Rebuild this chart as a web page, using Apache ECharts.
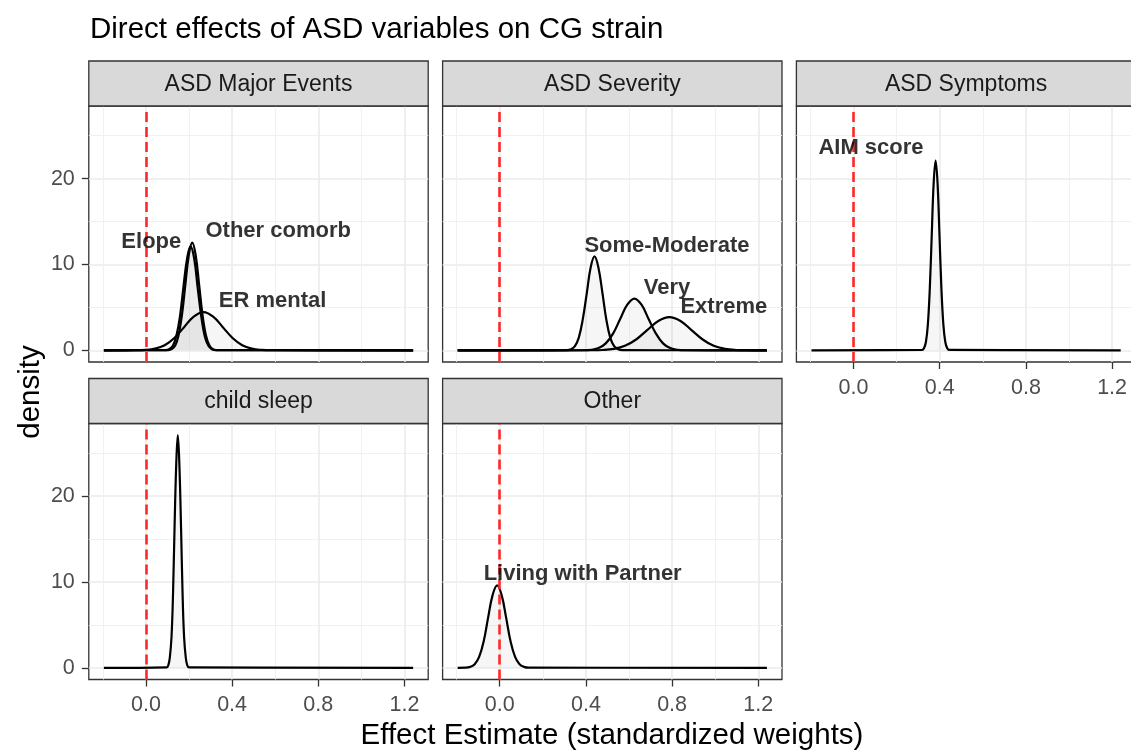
<!DOCTYPE html>
<html><head><meta charset="utf-8">
<script src="https://cdn.jsdelivr.net/npm/echarts@6/dist/echarts.min.js"></script>
<style>html,body{margin:0;padding:0;background:#fff}#c{width:1131px;height:751px}</style>
</head><body><div id="c"></div>
<script>
// ---- data ----
const facets = ['ASD Major Events', 'ASD Severity', 'ASD Symptoms', 'child sleep', 'Other'];
const xTicks = [0, 0.4, 0.8, 1.2];
const xMinorTicks = [-0.2, 0.2, 0.6, 1.0];
const yTicks = [0, 10, 20];
const yMinorTicks = [5, 15, 25];

const elope = [[-0.195,0],[0.092,0.03],[0.108,0.13],[0.125,0.53],[0.141,1.64],[0.158,3.93],[0.174,7.34],[0.191,10.68],[0.207,12.1],[0.224,10.68],[0.240,7.34],[0.257,3.93],[0.273,1.64],[0.290,0.53],[0.306,0.13],[0.323,0.03],[1.24,0]];
const otherComorb = [[-0.195,0],[0.104,0.03],[0.120,0.14],[0.136,0.55],[0.151,1.70],[0.167,4.07],[0.183,7.61],[0.199,11.08],[0.215,12.55],[0.231,11.08],[0.247,7.61],[0.263,4.07],[0.279,1.70],[0.295,0.55],[0.310,0.14],[0.326,0.03],[1.24,0]];
const erMental = [[-0.195,0],[-0.048,0.01],[-0.003,0.05],[0.042,0.20],[0.087,0.60],[0.132,1.44],[0.177,2.70],[0.222,3.93],[0.267,4.45],[0.312,3.93],[0.357,2.70],[0.402,1.44],[0.447,0.60],[0.492,0.20],[0.537,0.05],[0.582,0.01],[1.24,0]];
const someModerate = [[-0.195,0],[0.312,0.02],[0.331,0.12],[0.349,0.48],[0.367,1.48],[0.385,3.55],[0.404,6.64],[0.422,9.65],[0.440,10.94],[0.458,9.65],[0.477,6.64],[0.495,3.55],[0.513,1.48],[0.531,0.48],[0.550,0.12],[0.568,0.02],[1.24,0]];
const very = [[-0.195,0],[0.393,0.01],[0.426,0.07],[0.459,0.26],[0.492,0.81],[0.526,1.95],[0.559,3.65],[0.592,5.31],[0.625,6.02],[0.658,5.31],[0.691,3.65],[0.725,1.95],[0.758,0.81],[0.791,0.26],[0.824,0.07],[0.857,0.01],[1.24,0]];
const extreme = [[-0.195,0],[0.427,0.01],[0.478,0.04],[0.530,0.17],[0.581,0.52],[0.633,1.26],[0.684,2.35],[0.736,3.42],[0.787,3.87],[0.839,3.42],[0.890,2.35],[0.942,1.26],[0.993,0.52],[1.045,0.17],[1.096,0.04],[1.148,0.01],[1.24,0]];
const aimScore = [[-0.195,0],[0.318,0.05],[0.327,0.25],[0.336,0.97],[0.345,2.99],[0.354,7.18],[0.363,13.40],[0.372,19.50],[0.381,22.1],[0.390,19.50],[0.399,13.40],[0.408,7.18],[0.417,2.99],[0.426,0.97],[0.435,0.25],[0.444,0.05],[1.24,0]];
const childSleep = [[-0.195,0],[0.097,0.06],[0.104,0.30],[0.111,1.19],[0.119,3.67],[0.126,8.80],[0.133,16.44],[0.141,23.92],[0.148,27.1],[0.155,23.92],[0.163,16.44],[0.170,8.80],[0.177,3.67],[0.185,1.19],[0.192,0.30],[0.200,0.06],[1.24,0]];
const livingPartner = [[-0.195,0.005],[-0.158,0.02],[-0.137,0.11],[-0.116,0.42],[-0.095,1.30],[-0.074,3.12],[-0.054,5.82],[-0.033,8.47],[-0.012,9.6],[0.009,8.47],[0.030,5.82],[0.050,3.12],[0.071,1.30],[0.092,0.42],[0.113,0.11],[0.134,0.02],[1.24,0]];

const curveNames = ['Elope', 'Other comorb', 'ER mental', 'Some-Moderate', 'Very', 'Extreme', 'AIM score', 'child sleep', 'Living with Partner'];
const curvePanels = [0, 0, 0, 1, 1, 1, 2, 3, 4];
const curveData = [elope, otherComorb, erMental, someModerate, very, extreme, aimScore, childSleep, livingPartner];

const labelNames = ['Elope', 'Other comorb', 'ER mental', 'Some-Moderate', 'Very', 'Extreme', 'AIM score', 'Living with Partner'];
const labelPanels = [0, 0, 0, 1, 1, 1, 2, 4];
const labelX = [0.025, 0.614, 0.588, 0.776, 0.776, 1.04, 0.081, 0.385];
const labelY = [12.65, 13.87, 5.74, 12.19, 7.31, 5.04, 23.6, 10.96];

const refLineX = 0;

// ---- layout ----
const FONT = 'Liberation Sans, Arial, Helvetica, sans-serif';
const colLeft = [88.8, 442.6, 796.4];
const panelW = 339.4;
const rowTop = [106, 423.5];
const panelH = 256;
const stripH = 45;
const xMin = -0.265, xMax = 1.31, yMin = -1.36, yMax = 28.46;

const grids = [], xAxes = [], yAxes = [], series = [], graphics = [];
const nP = facets.length;

for (let i = 0; i < nP; i++) {
  const col = i % 3, row = Math.floor(i / 3);
  const left = colLeft[col], top = rowTop[row];
  grids.push({left: left, top: top, width: panelW, height: panelH, show: true,
    borderColor: '#333333', borderWidth: 1.3, backgroundColor: '#ffffff',
    containLabel: false, outerBoundsMode: 'none'});
  const showX = (row === 1) || (i === 2);
  const showY = (col === 0);
  xAxes.push({type: 'value', gridIndex: i, min: xMin, max: xMax, position: 'bottom',
    axisLine: {show: false, onZero: false},
    axisTick: {show: showX, customValues: xTicks, length: 7, lineStyle: {color: '#333333', width: 1.3}},
    axisLabel: {show: showX, customValues: xTicks, margin: 15, color: '#4D4D4D', fontSize: 21.5, fontFamily: FONT,
      formatter: v => v.toFixed(1)},
    splitLine: {show: true, lineStyle: {color: '#EBEBEB', width: 1.6}}
  });
  yAxes.push({type: 'value', gridIndex: i, min: yMin, max: yMax, position: 'left',
    axisLine: {show: false, onZero: false},
    axisTick: {show: showY, customValues: yTicks, length: 7, lineStyle: {color: '#333333', width: 1.3}},
    axisLabel: {show: showY, customValues: yTicks, margin: 14, color: '#4D4D4D', fontSize: 21.5, fontFamily: FONT},
    splitLine: {show: true, lineStyle: {color: '#EBEBEB', width: 1.6}}
  });
  // strip
  graphics.push({type: 'rect', shape: {x: left, y: top - stripH, width: panelW, height: stripH},
    style: {fill: '#D9D9D9', stroke: '#333333', lineWidth: 1.3}, z: 10});
  graphics.push({type: 'text', x: left + panelW / 2, y: top - stripH / 2 + 1,
    style: {text: facets[i], fill: '#1A1A1A', font: '23px ' + FONT, textAlign: 'center', textVerticalAlign: 'middle'}, z: 11});
}
// minor grid axes
for (let i = 0; i < nP; i++) {
  xAxes.push({type: 'value', gridIndex: i, min: xMin, max: xMax, position: 'top',
    axisLine: {show: false, onZero: false}, axisLabel: {show: false},
    axisTick: {show: false, customValues: xMinorTicks},
    splitLine: {show: true, lineStyle: {color: '#EFEFEF', width: 0.9}}});
  yAxes.push({type: 'value', gridIndex: i, min: yMin, max: yMax, position: 'right',
    axisLine: {show: false, onZero: false}, axisLabel: {show: false},
    axisTick: {show: false, customValues: yMinorTicks},
    splitLine: {show: true, lineStyle: {color: '#EFEFEF', width: 0.9}}});
}

curveData.forEach((d, k) => {
  const p = curvePanels[k];
  series.push({type: 'line', name: curveNames[k], xAxisIndex: p, yAxisIndex: p, data: d,
    showSymbol: false, symbol: 'none', smooth: 0.4, clip: true,
    lineStyle: {color: '#000000', width: 2.2},
    areaStyle: {color: 'rgba(150,150,150,0.13)'}, z: 3, silent: true});
});

for (let i = 0; i < nP; i++) {
  series.push({type: 'line', xAxisIndex: i, yAxisIndex: i, data: [], silent: true, z: 5,
    markLine: {silent: true, symbol: ['none', 'none'], label: {show: false},
      lineStyle: {color: '#FF2828', width: 2.6, type: [10, 5]},
      data: [{xAxis: refLineX}]}});
}

for (let i = 0; i < nP; i++) {
  const pts = [];
  labelNames.forEach((n, k) => { if (labelPanels[k] === i) pts.push({name: n, value: [labelX[k], labelY[k]]}); });
  if (!pts.length) continue;
  series.push({type: 'scatter', xAxisIndex: i, yAxisIndex: i, data: pts, symbolSize: 1, silent: true, z: 8,
    itemStyle: {color: 'rgba(0,0,0,0)'},
    label: {show: true, position: 'inside', formatter: p => p.name, color: '#000000', fontWeight: 'bold',
      fontSize: 22, fontFamily: FONT}});
}

graphics.push({type: 'text', x: 90, y: 30,
  style: {text: 'Direct effects of ASD variables on CG strain', fill: '#000000', font: '29.5px ' + FONT,
    textAlign: 'left', textVerticalAlign: 'middle'}});
graphics.push({type: 'text', x: 612, y: 736,
  style: {text: 'Effect Estimate (standardized weights)', fill: '#000000', font: '29.5px ' + FONT,
    textAlign: 'center', textVerticalAlign: 'middle'}});
graphics.push({type: 'text', x: 31, y: 392, rotation: Math.PI / 2,
  style: {text: 'density', fill: '#000000', font: '29.5px ' + FONT, textAlign: 'center', textVerticalAlign: 'middle'}});

const chart = echarts.init(document.getElementById('c'), null, {renderer: 'canvas'});
chart.setOption({
  animation: false,
  backgroundColor: '#ffffff',
  grid: grids, xAxis: xAxes, yAxis: yAxes, series: series, graphic: graphics
});
</script></body></html>
